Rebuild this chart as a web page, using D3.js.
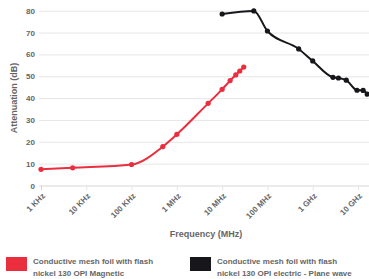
<!DOCTYPE html>
<html lang="en">
  <head>
    <meta charset="utf-8">
    <script src="https://d3js.org/d3.v7.min.js"></script>
    <title>Attenuation</title>
  </head>
  <body style="margin:0;background:#fff;">

    <style>
      text{ font-family:"Liberation Sans",Arial,sans-serif; font-weight:bold; fill:#666; }
      .grid line{ stroke:#e6e6e6; }
      .grid path{ display:none; }
    </style>

    <script>

      // data (frequency in Hz, attenuation in dB)

      var magneticFreq=[1e3,5e3,1e5,4.9e5,1e6,4.9e6,1e7,1.5e7,2e7,2.45e7,3e7];
      var magneticDb=[7.4,8.1,9.6,17.8,23.4,37.6,44,48,50.6,52.4,54.2];

      var electricFreq=[1e7,5e7,1e8,4.9e8,1e9,2.8e9,3.7e9,5.5e9,9.5e9,1.3e10,1.6e10];
      var electricDb=[78.5,79.9,70.7,62.5,57,49.5,49.2,48.2,43.6,43.5,41.8];

      var tickFreq=[1e3,1e4,1e5,1e6,1e7,1e8,1e9,1e10];
      var tickLabels=["1 KHz","10 KHz","100 KHz","1 MHz","10 MHz","100 MHz","1 GHz","10 GHz"];
      var yTicks=[0,10,20,30,40,50,60,70,80];

      var legendNames=[["Conductive mesh foil with flash","nickel 130 OPI Magnetic"],
                       ["Conductive mesh foil with flash","nickel 130 OPI electric - Plane wave"]];
      var colors=["#ea2e3e","#17161b"];

      var width=369, height=279;

      var svg=d3.select("body").append("svg").attr("width",width).attr("height",height);

      var x=d3.scaleLog().domain([1e3,1e10]).range([41,358]);
      var y=d3.scaleLinear().domain([0,80]).range([185.5,10.7]);

      // grid + axes

      var yAxis=d3.axisLeft(y).tickValues(yTicks).tickSize(-(width-41)).tickPadding(6);
      var gy=svg.append("g").attr("class","grid").attr("transform","translate(41,0)").call(yAxis);
      gy.selectAll("line").attr("x1",-2);
      gy.selectAll("text").style("font-size","8px");

      var xAxis=d3.axisBottom(x).tickValues(tickFreq).tickFormat(function(d,i){return tickLabels[i];})
        .tickSize(-(185.5-10.7)).tickPadding(0);
      var gx=svg.append("g").attr("class","grid").attr("transform","translate(0,185.5)").call(xAxis);
      gx.selectAll("line").attr("y2",5);
      gx.selectAll("line").filter(function(d){return d==1e3;}).style("stroke","#d8d8d8");
      gx.selectAll("text").style("font-size","8px").attr("text-anchor","end")
        .attr("dy",null).attr("y",0)
        .attr("transform","translate(4,11) rotate(-45)");

      gy.selectAll("line").filter(function(d){return d==0;}).style("stroke","#d8d8d8");

      // axis titles

      svg.append("text").attr("transform","translate(17,98) rotate(-90)")
        .attr("text-anchor","middle").style("font-size","9px").text("Attenuation (dB)");

      svg.append("text").attr("x",206).attr("y",237)
        .attr("text-anchor","middle").style("font-size","9px").text("Frequency (MHz)");

      // lines

      var series=[
        magneticFreq.map(function(f,i){return {f:f,v:magneticDb[i]};}),
        electricFreq.map(function(f,i){return {f:f,v:electricDb[i]};})
      ];

      var line=d3.line().x(function(d){return x(d.f);}).y(function(d){return y(d.v);})
        .curve(d3.curveMonotoneX);

      series.forEach(function(s,k){
        svg.append("path").datum(s).attr("d",line)
          .attr("fill","none").attr("stroke",colors[k]).attr("stroke-width",2);
        svg.selectAll("circle.s"+k).data(s).enter().append("circle")
          .attr("class","s"+k)
          .attr("cx",function(d){return x(d.f);})
          .attr("cy",function(d){return y(d.v);})
          .attr("r",2.6)
          .style("fill",colors[k]);
      });

      // legend

      var lx=[6,190];
      legendNames.forEach(function(n,k){
        svg.append("rect").attr("x",lx[k]).attr("y",257).attr("width",21).attr("height",14)
          .style("fill",colors[k]);
        var t=svg.append("text").attr("x",lx[k]+27).attr("y",264).style("font-size","8px");
        t.append("tspan").attr("x",lx[k]+27).text(n[0]);
        t.append("tspan").attr("x",lx[k]+27).attr("dy",12).text(n[1]);
      });

    </script>

  </body>
</html>
